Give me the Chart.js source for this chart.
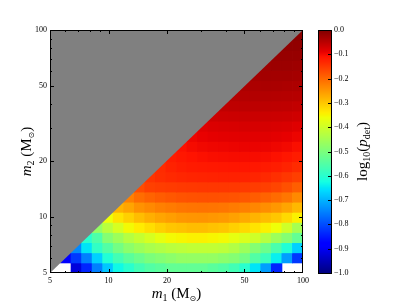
<!DOCTYPE html>
<html>
<head>
<meta charset="utf-8">
<script src="https://cdn.jsdelivr.net/npm/chart.js@4.4.1/dist/chart.umd.min.js"></script>
<style>
html,body{margin:0;padding:0;background:#fff;}
#wrap{width:407px;height:305px;position:relative;}
</style>
</head>
<body>
<div id="wrap"><canvas id="c" width="407" height="305"></canvas></div>
<script>
// ---------------- data ----------------
const massMajorTicks = [5, 10, 20, 50, 100];
const massMinorTicks = [6, 7, 8, 9, 30, 40, 60, 70, 80, 90];
const colorbarTicks = [0, -0.1, -0.2, -0.3, -0.4, -0.5, -0.6, -0.7, -0.8, -0.9, -1.0];
const equalMassLine = [5, 100];           // m2 = m1 boundary (upper-left region is grey)

// centres of the mass cells (M_sun), log-spaced from 5 to 100
const m1Centers = [5.32, 6.03, 6.83, 7.74, 8.77, 9.93, 11.25, 12.75, 14.45, 16.37, 18.54, 21.01,
                   23.80, 26.96, 30.55, 34.61, 39.21, 44.43, 50.33, 57.02, 64.60, 73.19, 82.92, 93.95];
const m2Centers = [5.32, 6.03, 6.83, 7.74, 8.77, 9.93, 11.25, 12.75, 14.45, 16.37, 18.54, 21.01,
                   23.80, 26.96, 30.55, 34.61, 39.21, 44.43, 50.33, 57.02, 64.60, 73.19, 82.92, 93.95];

// log10(p_det): row j is m2Centers[j]; entries start at m1 column j (the diagonal) and run to m1 = 93.95
// null = no value (white)
const logPdetRow00 = [null, null, -0.92, -0.84, -0.75, -0.68, -0.63, -0.60, -0.57, -0.55, -0.54, -0.53, -0.53, -0.53, -0.53, -0.54, -0.55, -0.57, -0.60, -0.65, -0.72, -0.84, null, null];
const logPdetRow01 = [-0.88, -0.82, -0.75, -0.67, -0.61, -0.57, -0.54, -0.52, -0.50, -0.49, -0.48, -0.47, -0.47, -0.47, -0.47, -0.48, -0.49, -0.51, -0.55, -0.58, -0.64, -0.72, -0.82];
const logPdetRow02 = [-0.74, -0.65, -0.59, -0.55, -0.51, -0.48, -0.46, -0.445, -0.435, -0.425, -0.42, -0.415, -0.415, -0.415, -0.42, -0.435, -0.46, -0.49, -0.52, -0.56, -0.61, -0.67];
const logPdetRow03 = [-0.60, -0.555, -0.49, -0.46, -0.43, -0.41, -0.39, -0.37, -0.355, -0.35, -0.345, -0.345, -0.35, -0.355, -0.37, -0.385, -0.40, -0.43, -0.46, -0.49, -0.53];
const logPdetRow04 = [-0.47, -0.425, -0.39, -0.355, -0.34, -0.325, -0.31, -0.30, -0.295, -0.29, -0.29, -0.295, -0.30, -0.31, -0.32, -0.33, -0.345, -0.36, -0.40, -0.45];
const logPdetRow05 = [-0.36, -0.33, -0.31, -0.29, -0.275, -0.265, -0.257, -0.25, -0.248, -0.247, -0.25, -0.253, -0.26, -0.27, -0.28, -0.29, -0.30, -0.32, -0.345];
const logPdetRow06 = [-0.28, -0.265, -0.245, -0.235, -0.225, -0.22, -0.215, -0.213, -0.212, -0.213, -0.215, -0.22, -0.225, -0.232, -0.24, -0.25, -0.265, -0.285];
const logPdetRow07 = [-0.225, -0.205, -0.195, -0.187, -0.182, -0.178, -0.176, -0.175, -0.175, -0.176, -0.178, -0.182, -0.187, -0.195, -0.203, -0.215, -0.235];
const logPdetRow08 = [-0.17, -0.158, -0.155, -0.152, -0.15, -0.149, -0.148, -0.148, -0.148, -0.149, -0.151, -0.153, -0.157, -0.163, -0.175, -0.19];
const logPdetRow09 = [-0.145, -0.138, -0.133, -0.13, -0.128, -0.127, -0.126, -0.125, -0.125, -0.126, -0.128, -0.133, -0.14, -0.148, -0.157];
const logPdetRow10 = [-0.135, -0.126, -0.121, -0.118, -0.116, -0.115, -0.114, -0.113, -0.113, -0.114, -0.117, -0.121, -0.127, -0.135];
const logPdetRow11 = [-0.12, -0.114, -0.11, -0.107, -0.105, -0.104, -0.103, -0.103, -0.103, -0.105, -0.108, -0.113, -0.12];
const logPdetRow12 = [-0.108, -0.102, -0.098, -0.096, -0.095, -0.094, -0.093, -0.093, -0.094, -0.096, -0.10, -0.106];
const logPdetRow13 = [-0.095, -0.091, -0.088, -0.086, -0.085, -0.084, -0.084, -0.084, -0.086, -0.089, -0.094];
const logPdetRow14 = [-0.083, -0.079, -0.077, -0.076, -0.075, -0.075, -0.075, -0.076, -0.078, -0.082];
const logPdetRow15 = [-0.068, -0.066, -0.065, -0.064, -0.064, -0.064, -0.065, -0.066, -0.069];
const logPdetRow16 = [-0.056, -0.054, -0.053, -0.053, -0.053, -0.054, -0.055, -0.057];
const logPdetRow17 = [-0.046, -0.045, -0.044, -0.044, -0.045, -0.046, -0.047];
const logPdetRow18 = [-0.039, -0.038, -0.037, -0.037, -0.038, -0.039];
const logPdetRow19 = [-0.032, -0.031, -0.031, -0.031, -0.032];
const logPdetRow20 = [-0.026, -0.025, -0.025, -0.026];
const logPdetRow21 = [-0.02, -0.02, -0.02];
const logPdetRow22 = [-0.015, -0.015];
const logPdetRow23 = [-0.01];

const logPdetRows = [logPdetRow00, logPdetRow01, logPdetRow02, logPdetRow03, logPdetRow04, logPdetRow05,
  logPdetRow06, logPdetRow07, logPdetRow08, logPdetRow09, logPdetRow10, logPdetRow11, logPdetRow12,
  logPdetRow13, logPdetRow14, logPdetRow15, logPdetRow16, logPdetRow17, logPdetRow18, logPdetRow19,
  logPdetRow20, logPdetRow21, logPdetRow22, logPdetRow23];

// ---------------- helpers ----------------
const SERIF = '"Liberation Serif", "DejaVu Serif", serif';
const JET_R = [[0,0],[0.35,0],[0.66,1],[0.89,1],[1,0.5]];
const JET_G = [[0,0],[0.125,0],[0.375,1],[0.64,1],[0.91,0],[1,0]];
const JET_B = [[0,0.5],[0.11,1],[0.34,1],[0.65,0],[1,0]];
function seg(s, t) {
  for (let k = 1; k < s.length; k++) {
    if (t <= s[k][0]) { const a = s[k-1], b = s[k]; return a[1] + (b[1]-a[1])*(t-a[0])/(b[0]-a[0]); }
  }
  return s[s.length-1][1];
}
function jet(val) {
  let t = Math.max(0, Math.min(1, val + 1)); // colour range -1 .. 0
  const r = Math.round(255*seg(JET_R, t)), g = Math.round(255*seg(JET_G, t)), b = Math.round(255*seg(JET_B, t));
  return 'rgb(' + r + ',' + g + ',' + b + ')';
}

const cells = [];
logPdetRows.forEach((row, j) => {
  row.forEach((val, k) => {
    if (val !== null) cells.push({ x: m1Centers[j + k], y: m2Centers[j], v: val, i: j + k, j: j });
  });
});

function drawRich(ctx, parts, x, y, rotate) {
  ctx.save();
  ctx.translate(x, y);
  if (rotate) ctx.rotate(-Math.PI / 2);
  let total = 0;
  parts.forEach(p => { ctx.font = p.font; p.w = ctx.measureText(p.t).width; total += p.w; });
  let cx = -total / 2;
  ctx.textAlign = 'left'; ctx.textBaseline = 'alphabetic'; ctx.fillStyle = '#000';
  parts.forEach(p => { ctx.font = p.font; ctx.fillText(p.t, cx, p.dy || 0); cx += p.w; });
  ctx.restore();
}

const heatmapPlugin = {
  id: 'heatmap',
  beforeDatasetsDraw(chart) {
    const ctx = chart.ctx, xs = chart.scales.x, ys = chart.scales.y, ca = chart.chartArea;
    const xp = m1Centers.map(v => xs.getPixelForValue(v));
    const yp = m2Centers.map(v => ys.getPixelForValue(v));
    const xe = [xs.getPixelForValue(xs.min)], ye = [ys.getPixelForValue(ys.min)];
    for (let k = 1; k < xp.length; k++) xe.push((xp[k-1] + xp[k]) / 2);
    xe.push(xs.getPixelForValue(xs.max));
    for (let k = 1; k < yp.length; k++) ye.push((yp[k-1] + yp[k]) / 2);
    ye.push(ys.getPixelForValue(ys.max));
    ctx.save();
    ctx.beginPath(); ctx.rect(ca.left, ca.top, ca.right - ca.left, ca.bottom - ca.top); ctx.clip();
    cells.forEach(c => {
      const x0 = xe[c.i], x1 = xe[c.i + 1], y0 = ye[c.j], y1 = ye[c.j + 1];
      ctx.fillStyle = jet(c.v);
      ctx.fillRect(x0 - 0.4, y1 - 0.4, (x1 - x0) + 0.8, (y0 - y1) + 0.8);
    });
    ctx.restore();
  },
  afterDraw(chart) {
    const ctx = chart.ctx, xs = chart.scales.x, ys = chart.scales.y, cb = chart.scales.cb, ca = chart.chartArea;
    ctx.save();
    // frame
    ctx.strokeStyle = '#000'; ctx.lineWidth = 1;
    ctx.strokeRect(ca.left + 0.5, ca.top + 0.5, ca.right - ca.left - 1, ca.bottom - ca.top - 1);
    // inward ticks on all four sides
    ctx.beginPath();
    const tickSet = [[massMajorTicks, 4], [massMinorTicks, 2]];
    tickSet.forEach(([vals, len]) => {
      vals.forEach(v => {
        const px = Math.round(xs.getPixelForValue(v)) + 0.5;
        if (px > ca.left + 1 && px < ca.right - 1) {
          ctx.moveTo(px, ca.bottom); ctx.lineTo(px, ca.bottom - len);
          ctx.moveTo(px, ca.top); ctx.lineTo(px, ca.top + len);
        }
        const py = Math.round(ys.getPixelForValue(v)) + 0.5;
        if (py > ca.top + 1 && py < ca.bottom - 1) {
          ctx.moveTo(ca.left, py); ctx.lineTo(ca.left + len, py);
          ctx.moveTo(ca.right, py); ctx.lineTo(ca.right - len, py);
        }
      });
    });
    ctx.stroke();
    // colour bar
    const bx0 = cb.left + 15, bx1 = cb.left + 29;
    const top = Math.round(cb.getPixelForValue(0)), bot = Math.round(cb.getPixelForValue(-1));
    for (let y = top; y < bot; y++) {
      ctx.fillStyle = jet(cb.getValueForPixel(y + 0.5));
      ctx.fillRect(bx0, y, bx1 - bx0, 1);
    }
    ctx.strokeStyle = '#000';
    ctx.strokeRect(bx0 + 0.5, top + 0.5, bx1 - bx0 - 1, bot - top);
    ctx.beginPath();
    colorbarTicks.forEach(v => {
      const py = Math.round(cb.getPixelForValue(v)) + 0.5;
      if (py > top + 1 && py < bot - 1) { ctx.moveTo(bx1 - 1, py); ctx.lineTo(bx1 - 4, py); }
    });
    ctx.stroke();
    ctx.restore();
    // axis titles
    const cxm = (ca.left + ca.right) / 2, cym = (ca.top + ca.bottom) / 2;
    drawRich(ctx, [
      { t: 'm', font: 'italic 15px ' + SERIF },
      { t: '1', font: '10px ' + SERIF, dy: 3 },
      { t: ' (M', font: '15px ' + SERIF },
      { t: '\u2299', font: '8px "DejaVu Sans", sans-serif', dy: 3 },
      { t: ')', font: '15px ' + SERIF }
    ], cxm, 298, false);
    drawRich(ctx, [
      { t: 'm', font: 'italic 15px ' + SERIF },
      { t: '2', font: '10px ' + SERIF, dy: 3 },
      { t: ' (M', font: '15px ' + SERIF },
      { t: '\u2299', font: '8px "DejaVu Sans", sans-serif', dy: 3 },
      { t: ')', font: '15px ' + SERIF }
    ], 31, cym, true);
    drawRich(ctx, [
      { t: 'log', font: '15px ' + SERIF },
      { t: '10', font: '10px ' + SERIF, dy: 3 },
      { t: '(', font: '15px ' + SERIF },
      { t: 'p', font: 'italic 15px ' + SERIF },
      { t: 'det', font: '10px ' + SERIF, dy: 3 },
      { t: ')', font: '15px ' + SERIF }
    ], cb.left + 64, (cb.top + cb.bottom) / 2, true);
  }
};

const tickFont = { family: SERIF, size: 8 };

new Chart(document.getElementById('c'), {
  type: 'scatter',
  data: {
    datasets: [
      {
        label: 'log10 p_det',
        data: cells,
        pointRadius: 0,
        showLine: false
      },
      {
        type: 'line',
        label: 'm2 > m1',
        data: equalMassLine.map(m => ({ x: m, y: m })),
        fill: 'end',
        backgroundColor: '#808080',
        borderColor: 'rgba(0,0,0,0)',
        borderWidth: 0,
        pointRadius: 0
      }
    ]
  },
  options: {
    responsive: false,
    animation: false,
    events: [],
    layout: { padding: { top: 30, left: 0, right: 0, bottom: 0 } },
    plugins: { legend: { display: false }, tooltip: { enabled: false } },
    scales: {
      x: {
        type: 'logarithmic', position: 'bottom', min: 5, max: 100,
        grid: { display: false, drawTicks: false }, border: { display: false },
        ticks: { font: tickFont, color: '#000', padding: 3, maxRotation: 0, autoSkip: false,
                 callback: v => String(v) },
        afterBuildTicks: s => { s.ticks = massMajorTicks.map(v => ({ value: v })); },
        afterFit: s => { s.height = 32; }
      },
      y: {
        type: 'logarithmic', position: 'left', min: 5, max: 100,
        grid: { display: false, drawTicks: false }, border: { display: false },
        ticks: { font: tickFont, color: '#000', padding: 3, autoSkip: false,
                 callback: v => String(v) },
        afterBuildTicks: s => { s.ticks = massMajorTicks.map(v => ({ value: v })); },
        afterFit: s => { s.width = 50; s.paddingTop = 0; s.paddingBottom = 0; }
      },
      cb: {
        type: 'linear', position: 'right', min: -1, max: 0,
        grid: { display: false, drawTicks: false }, border: { display: false },
        ticks: { font: tickFont, color: '#000', padding: 31, autoSkip: false,
                 callback: v => (Math.abs(v) < 1e-9 ? '0.0' : '\u2212' + Math.abs(v).toFixed(1)) },
        afterBuildTicks: s => { s.ticks = colorbarTicks.map(v => ({ value: v })); },
        afterFit: s => { s.width = 104; s.paddingTop = 0; s.paddingBottom = 0; }
      }
    }
  },
  plugins: [heatmapPlugin]
});
</script>
</body>
</html>
